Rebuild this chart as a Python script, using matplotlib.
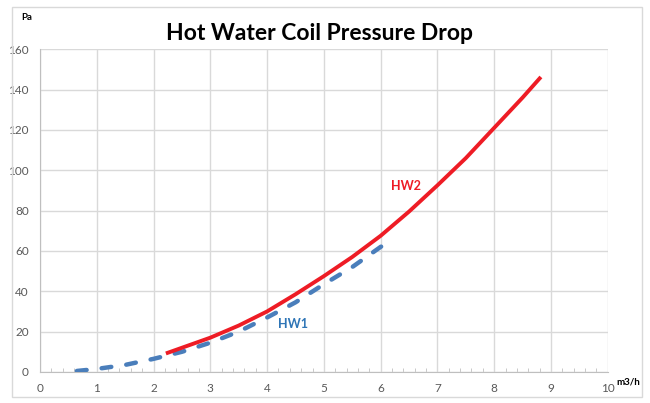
import numpy as np
import matplotlib
matplotlib.use('Agg')
import matplotlib.pyplot as plt
from matplotlib.ticker import MultipleLocator

# values
hw1_flow = [0.65, 1.0, 1.5, 2.0, 2.5, 3.0, 3.5, 4.0, 4.5, 5.0, 5.5, 6.0, 6.2]
hw1_dp = [0.5, 1.5, 3.5, 6.5, 10.0, 14.5, 20.0, 27.0, 34.5, 43.5, 52.0, 62.0, 65.0]

hw2_flow = [2.25, 2.5, 3.0, 3.5, 4.0, 4.5, 5.0, 5.5, 6.0, 6.5, 7.0, 7.5, 8.0, 8.5, 8.8]
hw2_dp = [9.5, 12.0, 17.0, 23.0, 30.0, 38.5, 47.5, 57.0, 67.5, 79.5, 92.5, 106.0, 121.0, 136.0, 145.5]

x_ticks = [0, 1, 2, 3, 4, 5, 6, 7, 8, 9, 10]
y_ticks = [0, 20, 40, 60, 80, 100, 120, 140, 160]

plt.rcParams['font.family'] = ['Lato', 'DejaVu Sans']

fig = plt.figure(figsize = (6.5, 4.03), dpi = 100, facecolor = 'white')
ax = fig.add_axes([0.0615, 0.077, 0.8735, 0.801])

# frame around whole chart
fig.patches.append(plt.Rectangle((12/650, 6/403), 630/650, 390/403, transform = fig.transFigure,
                                 fill = False, edgecolor = '#d9d9d9', linewidth = 1))

ax.plot(hw1_flow, hw1_dp, color = '#4a7ebb', linewidth = 3.2, dashes = (2.2, 3.4),
        dash_capstyle = 'round', zorder = 3)
ax.plot(hw2_flow, hw2_dp, color = '#ee1c25', linewidth = 2.8, solid_joinstyle = 'round', zorder = 4)

ax.set_xlim(0, 10)
ax.set_ylim(0, 160)
ax.set_xticks(x_ticks)
ax.set_yticks(y_ticks)
ax.xaxis.set_minor_locator(MultipleLocator(0.2))
ax.grid(True, which = 'major', color = '#d9d9d9', linewidth = 1)
ax.set_axisbelow(True)

for s in ['top', 'right']:
    ax.spines[s].set_visible(False)
ax.spines['left'].set_color('#bfbfbf')
ax.spines['bottom'].set_color('#bfbfbf')

ax.tick_params(axis = 'x', which = 'major', length = 0, labelsize = 8.5, labelcolor = '#595959', pad = 8)
ax.tick_params(axis = 'x', which = 'minor', direction = 'in', length = 3, color = '#bfbfbf')
ax.tick_params(axis = 'y', length = 0, labelsize = 8.5, labelcolor = '#595959', pad = 8)

fig.text(0.492, 0.918, 'Hot Water Coil Pressure Drop', ha = 'center', va = 'center',
         fontsize = 16.5, fontweight = 'bold', color = 'black')
fig.text(21/650, 1 - 18/403, 'Pa', ha = 'left', va = 'center', fontsize = 7, fontweight = 'bold')
fig.text(616/650, 1 - 382/403, 'm3/h', ha = 'left', va = 'center', fontsize = 7, fontweight = 'bold')

ax.text(4.45, 24, 'HW1', color = '#2e75b6', fontsize = 9, fontweight = 'bold', ha = 'center', va = 'center')
ax.text(6.45, 92, 'HW2', color = '#ee1c25', fontsize = 9, fontweight = 'bold', ha = 'center', va = 'center')

plt.savefig('out.png', dpi = 100, facecolor = 'white')
plt.close()
